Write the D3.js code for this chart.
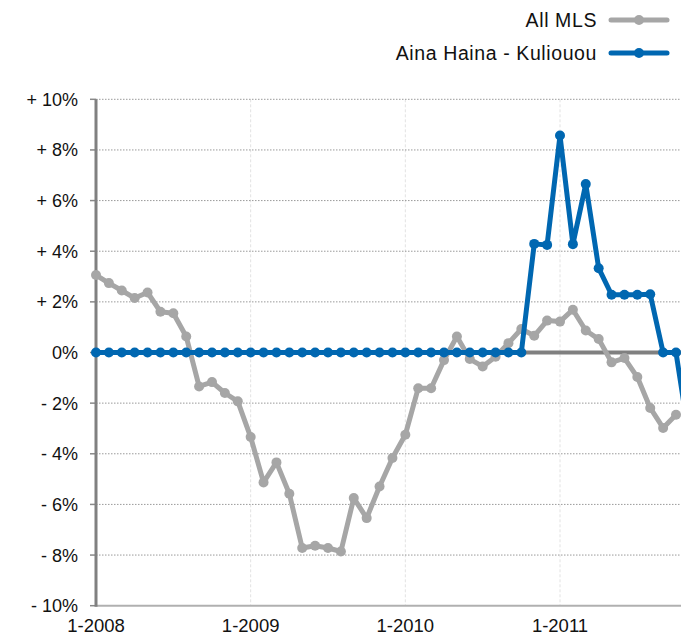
<!DOCTYPE html>
<html>
<head>
<meta charset="utf-8">
<script src="https://cdn.jsdelivr.net/npm/d3@7"></script>
<style>
  html, body { margin: 0; padding: 0; background: #fff; }
  svg { display: block; }
  text { font-family: "Liberation Sans", Arial, Helvetica, sans-serif; fill: #111; }
</style>
</head>
<body>
<svg id="chart" width="681" height="637"></svg>
<script>
// ---- Data (monthly, starting 1-2008) ----
const seriesNames = ["All MLS", "Aina Haina - Kuliouou"];
const allMLS = [3.06, 2.74, 2.45, 2.15, 2.37, 1.61, 1.55, 0.63, -1.34, -1.17, -1.60, -1.93,
  -3.34, -5.13, -4.34, -5.58, -7.72, -7.63, -7.72, -7.86, -5.75, -6.54, -5.29, -4.17,
  -3.25, -1.41, -1.41, -0.30, 0.63, -0.26, -0.55, -0.17, 0.37, 0.93, 0.66, 1.26,
  1.22, 1.69, 0.87, 0.53, -0.39, -0.22, -0.97, -2.19, -2.98, -2.46];
const ainaHaina = [0, 0, 0, 0, 0, 0, 0, 0, 0, 0, 0, 0,
  0, 0, 0, 0, 0, 0, 0, 0, 0, 0, 0, 0,
  0, 0, 0, 0, 0, 0, 0, 0, 0, 0, 4.29, 4.25,
  8.57, 4.28, 6.65, 3.33, 2.28, 2.28, 2.28, 2.30, 0, 0, -3.3];
const xTickMonths = [0, 12, 24, 36];
const xTickLabels = ["1-2008", "1-2009", "1-2010", "1-2011"];
const yTicks = [10, 8, 6, 4, 2, 0, -2, -4, -6, -8, -10];
const yTickLabels = ["+ 10%", "+ 8%", "+ 6%", "+ 4%", "+ 2%", "0%", "- 2%", "- 4%", "- 6%", "- 8%", "- 10%"];
const colors = ["#a6a6a6", "#0067b1"];

// ---- Layout ----
const svg = d3.select("#chart");
const x = d3.scaleLinear().domain([0, 36]).range([96, 560]);
const y = d3.scaleLinear().domain([-10, 10]).range([605.7, 99.3]);
const xRight = 681;

// vertical light gridlines
svg.append("g").selectAll("line").data(xTickMonths.slice(1)).join("line")
  .attr("x1", d => x(d)).attr("x2", d => x(d))
  .attr("y1", y(10)).attr("y2", y(-10))
  .attr("stroke", "#e2e2e2").attr("stroke-width", 1)
  .attr("stroke-dasharray", "3,2");

// horizontal dotted gridlines
svg.append("g").selectAll("line").data(yTicks.filter(d => d !== 0)).join("line")
  .attr("x1", x(0)).attr("x2", xRight)
  .attr("y1", d => y(d)).attr("y2", d => y(d))
  .attr("stroke", d => d === -10 ? "#b0b0b0" : "#9a9a9a")
  .attr("stroke-width", d => d === -10 ? 2 : 1)
  .attr("stroke-dasharray", d => d === -10 ? null : "1.5,1.5");

// y tick marks
svg.append("g").selectAll("line").data(yTicks).join("line")
  .attr("x1", x(0) - 6).attr("x2", x(0))
  .attr("y1", d => y(d)).attr("y2", d => y(d))
  .attr("stroke", "#888").attr("stroke-width", 1.5);

// y tick labels
svg.append("g").selectAll("text").data(yTicks).join("text")
  .attr("x", 78).attr("y", d => y(d))
  .attr("dy", "0.36em")
  .attr("text-anchor", "end")
  .style("font-size", "18px")
  .text((d, i) => yTickLabels[i]);

// x tick labels
svg.append("g").selectAll("text").data(xTickMonths).join("text")
  .attr("x", d => x(d)).attr("y", 632)
  .attr("text-anchor", "middle")
  .style("font-size", "18.5px")
  .text((d, i) => xTickLabels[i]);

// y axis line
svg.append("line")
  .attr("x1", x(0)).attr("x2", x(0))
  .attr("y1", y(10)).attr("y2", y(-10) + 1)
  .attr("stroke", "#808080").attr("stroke-width", 3);

// zero line
svg.append("line")
  .attr("x1", x(0)).attr("x2", xRight)
  .attr("y1", y(0)).attr("y2", y(0))
  .attr("stroke", "#808080").attr("stroke-width", 4);

// series
const line = d3.line().x((d, i) => x(i)).y(d => y(d));
[allMLS, ainaHaina].forEach((vals, s) => {
  const g = svg.append("g");
  g.append("path").datum(vals)
    .attr("d", line)
    .attr("fill", "none")
    .attr("stroke", colors[s])
    .attr("stroke-width", 5)
    .attr("stroke-linejoin", "round");
  g.selectAll("circle").data(vals).join("circle")
    .attr("cx", (d, i) => x(i)).attr("cy", d => y(d))
    .attr("r", 5).attr("fill", colors[s]);
});

// legend
const legendY = [20, 53];
seriesNames.forEach((name, s) => {
  const g = svg.append("g");
  g.append("text")
    .attr("x", 597).attr("y", legendY[s])
    .attr("dy", "0.36em")
    .attr("text-anchor", "end")
    .style("font-size", "19.5px")
    .style("letter-spacing", "0.6px")
    .text(name);
  g.append("line")
    .attr("x1", 611).attr("x2", 667)
    .attr("y1", legendY[s]).attr("y2", legendY[s])
    .attr("stroke", colors[s]).attr("stroke-width", 5)
    .attr("stroke-linecap", "round");
  g.append("circle")
    .attr("cx", 639).attr("cy", legendY[s]).attr("r", 5)
    .attr("fill", colors[s]);
});
</script>
</body>
</html>
